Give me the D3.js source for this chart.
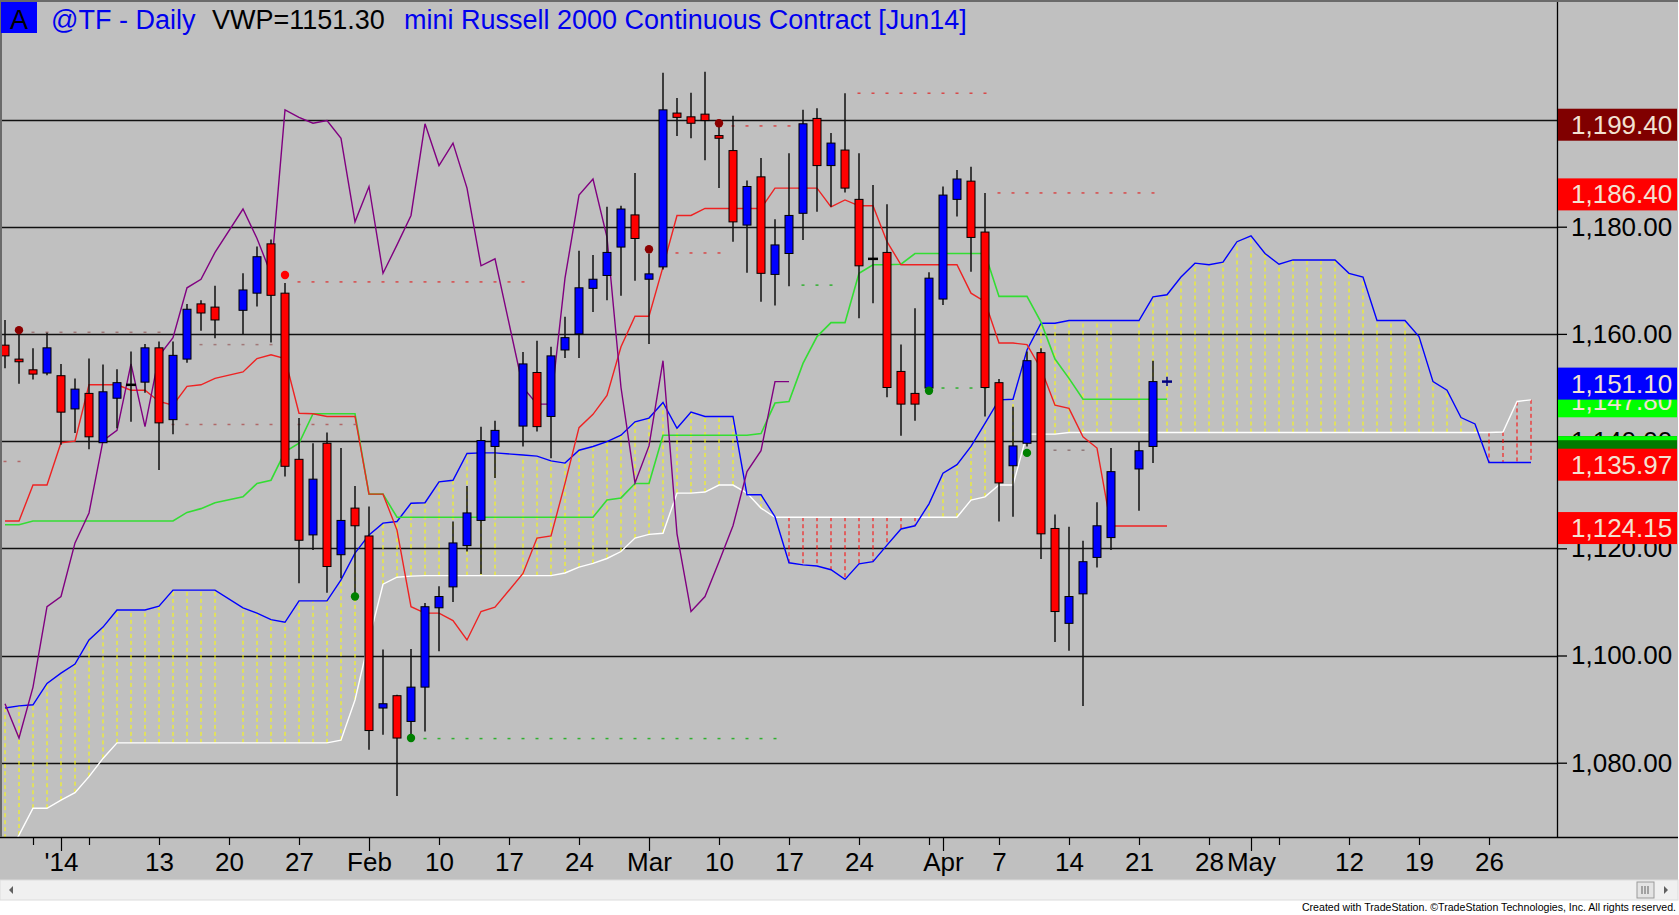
<!DOCTYPE html>
<html>
<head>
<meta charset="utf-8">
<script src="https://cdnjs.cloudflare.com/ajax/libs/d3/7.8.5/d3.min.js"></script>
<style>
  body { margin: 0; background: #ffffff; overflow: hidden; }
  svg { display: block; font-family: "Liberation Sans", Arial, sans-serif; }
</style>
</head>
<body>
<div id="chart-area"></div>
<script>
// one slot per weekday, Dec 26 2013 = slot 0; null = holiday slot without a bar
const opens = [1157.9, 1155.3, 1153.3, 1152.7, 1152.2, 1146.0, 1148.9, 1139.7, 1148.0, 1150.5,
  1151.0, 1157.4, 1144.0, 1155.3, 1165.6, 1165.0, null, 1164.4, 1167.6, 1176.8,
  1167.6, 1136.6, 1122.5, 1139.6, 1118.8, 1127.5, 1122.3, 1090.2, 1092.5, 1087.7,
  1094.1, 1108.9, 1112.8, 1120.5, 1125.2, 1139.0, null, 1142.8, 1152.8, 1144.6,
  1157.0, 1160.0, 1168.5, 1170.9, 1176.2, 1182.2, 1170.2, 1172.5, 1201.2, 1200.5,
  1201.0, 1197.0, 1194.2, 1180.3, 1189.3, 1171.1, 1175.0, 1182.5, 1200.2, 1191.4,
  1194.3, 1185.1, 1174.0, 1175.2, 1153.0, 1148.9, 1149.9, 1166.5, 1185.1, 1188.5,
  1179.0, 1150.9, 1135.4, 1139.6, 1156.5, 1123.7, 1106.0, 1111.5, 1118.3, 1122.0,
  null, 1134.8, 1139.0, 1151.1]
const highs = [1162.6, 1160.2, 1157.3, 1160.2, 1154.4, 1151.7, 1155.4, 1154.3, 1153.4, 1156.7,
  1158.1, 1158.6, 1158.6, 1165.6, 1166.3, 1169.0, null, 1171.3, 1176.3, 1177.6,
  1169.5, 1144.3, 1139.6, 1141.6, 1138.7, 1131.6, 1127.8, 1101.1, 1092.7, 1101.2,
  1109.8, 1112.9, 1125.0, 1131.6, 1142.7, 1143.8, null, 1156.6, 1158.7, 1157.6,
  1163.2, 1175.5, 1174.7, 1183.7, 1183.9, 1190.0, 1175.0, 1208.7, 1204.0, 1205.0,
  1208.9, 1198.7, 1200.7, 1188.6, 1192.8, 1181.4, 1193.7, 1201.8, 1202.1, 1197.5,
  1204.9, 1193.7, 1187.8, 1184.2, 1158.0, 1164.8, 1171.5, 1187.5, 1190.6, 1191.2,
  1186.3, 1151.6, 1146.4, 1156.7, 1157.3, 1126.3, 1124.0, 1121.4, 1128.6, 1138.7,
  null, 1139.9, 1155.0, 1152.0]
const lows = [1153.6, 1150.7, 1151.5, 1152.3, 1139.3, 1141.5, 1138.5, 1139.7, 1142.4, 1143.6,
  1149.0, 1134.6, 1141.3, 1154.6, 1160.6, 1159.2, null, 1160.0, 1165.1, 1158.4,
  1133.4, 1113.5, 1119.7, 1111.7, 1114.4, 1111.0, 1082.4, 1085.2, 1073.8, 1084.4,
  1085.8, 1100.8, 1110.0, 1119.4, 1115.2, 1133.1, null, 1139.0, 1141.8, 1136.8,
  1155.5, 1155.5, 1164.1, 1166.3, 1167.1, 1169.9, 1158.1, 1172.0, 1196.9, 1196.5,
  1192.4, 1187.2, 1177.2, 1171.4, 1166.0, 1165.3, 1168.9, 1177.5, 1182.8, 1183.7,
  1186.4, 1162.9, 1165.7, 1148.2, 1141.0, 1143.8, 1149.5, 1165.4, 1181.9, 1171.6,
  1144.6, 1125.0, 1125.9, 1139.0, 1118.0, 1102.5, 1100.9, 1090.6, 1116.4, 1119.7,
  null, 1127.0, 1135.9, 1150.3]
const closes = [1155.9, 1154.8, 1152.5, 1157.4, 1145.4, 1149.7, 1140.8, 1149.2, 1150.9, 1150.5,
  1157.4, 1143.4, 1156.0, 1164.6, 1163.9, 1162.6, null, 1168.2, 1174.4, 1167.2,
  1135.3, 1121.5, 1132.9, 1116.6, 1125.2, 1124.2, 1086.0, 1091.0, 1084.6, 1094.1,
  1109.1, 1111.0, 1121.0, 1126.6, 1140.1, 1142.0, null, 1154.4, 1142.7, 1155.9,
  1159.3, 1168.6, 1170.2, 1175.2, 1183.3, 1177.8, 1171.2, 1201.8, 1200.4, 1199.3,
  1199.8, 1196.5, 1180.9, 1187.5, 1171.3, 1176.6, 1182.1, 1199.2, 1191.4, 1195.6,
  1187.2, 1172.7, 1174.0, 1150.0, 1146.9, 1146.9, 1170.4, 1185.9, 1188.9, 1178.0,
  1150.0, 1132.2, 1139.1, 1155.0, 1122.7, 1108.2, 1111.0, 1117.5, 1124.2, 1134.3,
  null, 1138.2, 1151.1, 1151.1]

// ichimoku lines
const tenkan = [1125.1, 1125.1, 1131.8, 1131.8, 1139.7, 1140.0, 1150.5, 1150.5, 1150.5, 1149.5,
  1149.5, 1147.4, 1146.7, 1150.2, 1150.5, 1151.7, null, 1152.9, 1155.4, 1156.1,
  1155.4, 1145.2, 1145.1, 1144.6, 1144.6, 1144.6, 1130.1, 1130.1, 1123.4, 1109.1,
  1107.9, 1107.9, 1106.5, 1102.9, 1108.2, 1109.0, null, 1115.3, 1121.9, 1122.3,
  1132.1, 1142.5, 1145.0, 1148.5, 1157.6, 1163.3, 1163.3, 1172.5, 1182.1, 1182.1,
  1183.4, 1183.4, 1183.4, 1183.4, 1183.4, 1187.2, 1187.2, 1187.2, 1187.2, 1183.7,
  1185.0, 1183.9, 1183.9, 1177.2, 1172.9, 1172.9, 1172.9, 1172.9, 1172.9, 1167.6,
  1166.0, 1158.3, 1158.3, 1158.0, 1153.5, 1146.7, 1146.1, 1140.8, 1138.7, 1124.15,
  null, 1124.15, 1124.15, 1124.15]
const kijun = [1124.4, 1124.4, 1125.1, 1125.1, 1125.1, 1125.1, 1125.1, 1125.1, 1125.1, 1125.1,
  1125.1, 1125.1, 1125.1, 1126.7, 1127.4, 1128.5, null, 1129.6, 1132.1, 1132.7,
  1138.0, 1139.6, 1145.1, 1145.1, 1145.1, 1145.1, 1130.1, 1130.1, 1125.8, 1125.8,
  1125.8, 1125.8, 1125.8, 1125.8, 1125.8, 1125.8, null, 1125.8, 1125.8, 1125.8,
  1125.8, 1125.8, 1125.8, 1129.0, 1129.4, 1132.1, 1132.1, 1141.1, 1141.1, 1141.1,
  1141.1, 1141.1, 1141.1, 1141.1, 1141.4, 1147.1, 1147.4, 1154.5, 1159.5, 1162.1,
  1162.1, 1171.3, 1172.9, 1172.9, 1173.0, 1175.0, 1175.0, 1175.0, 1175.0, 1175.0,
  1175.0, 1167.0, 1167.0, 1167.0, 1162.2, 1155.3, 1151.7, 1147.8, 1147.8, 1147.8,
  null, 1147.8, 1147.8, 1147.8]
const senkouA = [1062.0, 1066.5, 1071.5, 1071.5, 1073.0, 1074.4, 1077.4, 1080.8, 1083.7, 1083.7,
  1083.7, 1083.7, 1083.7, 1083.7, 1083.7, 1083.7, null, 1083.7, 1083.7, 1083.7,
  1083.7, 1083.7, 1083.7, 1083.7, 1084.2, 1091.7, 1102.9, 1113.3, 1114.6, 1114.8,
  1114.9, 1114.9, 1114.9, 1114.9, 1114.9, 1114.9, null, 1114.9, 1114.9, 1114.9,
  1115.4, 1116.5, 1117.2, 1118.1, 1119.4, 1121.9, 1122.6, 1122.8, 1130.3, 1130.3,
  1130.5, 1131.8, 1131.8, 1130.3, 1127.5, 1125.8, 1125.8, 1125.8, 1125.8, 1125.8,
  1125.8, 1125.8, 1125.8, 1125.8, 1125.8, 1125.8, 1125.8, 1125.8, 1125.8, 1129.0,
  1129.6, 1131.8, 1131.8, 1141.3, 1141.3, 1141.3, 1141.6, 1141.6, 1141.6, 1141.6,
  null, 1141.6, 1141.6, 1141.6, 1141.6, 1141.6, 1141.6, 1141.6, 1141.6, 1141.6,
  1141.6, 1141.6, 1141.6, 1141.6, 1141.6, 1141.6, 1141.6, 1141.6, 1141.6, 1141.6,
  1141.6, 1141.6, 1141.6, 1141.6, 1141.6, 1141.6, 1141.6, 1141.7, 1147.4, 1147.7]
const senkouB = [1090.2, 1090.6, 1090.8, 1094.8, 1096.7, 1098.4, 1102.9, 1105.3, 1108.5, 1108.5,
  1108.5, 1109.2, 1112.2, 1112.2, 1112.2, 1112.2, null, 1108.9, 1107.9, 1106.7,
  1106.2, 1110.2, 1110.2, 1110.2, 1114.1, 1119.1, 1122.5, 1124.7, 1125.0, 1128.4,
  1128.5, 1132.4, 1132.7, 1137.7, 1137.8, 1137.8, null, 1137.4, 1137.2, 1136.3,
  1135.9, 1138.3, 1139.0, 1139.9, 1141.1, 1143.6, 1144.3, 1147.2, 1142.4, 1145.4,
  1144.6, 1144.6, 1144.6, 1130.0, 1130.0, 1125.9, 1117.3, 1116.9, 1116.7, 1116.0,
  1114.2, 1117.1, 1117.5, 1120.6, 1123.6, 1124.2, 1128.3, 1134.0, 1135.6, 1139.0,
  1143.3, 1147.7, 1147.8, 1157.0, 1162.0, 1162.0, 1162.5, 1162.5, 1162.5, 1162.5,
  null, 1162.5, 1166.9, 1167.3, 1170.6, 1173.2, 1172.9, 1173.4, 1177.2, 1178.3,
  1175.0, 1173.0, 1173.8, 1173.8, 1173.8, 1173.8, 1171.3, 1170.6, 1162.5, 1162.5,
  1162.5, 1159.5, 1151.1, 1149.5, 1144.4, 1143.2, 1136.0, 1136.0, 1136.0, 1136.0]
const chikou = [1091.0, 1084.6, 1094.1, 1109.1, 1111.0, 1121.0, 1126.6, 1140.1, 1142.0, 1154.4,
  1142.7, 1155.9, 1159.3, 1168.6, 1170.2, 1175.2, null, 1183.3, 1177.8, 1171.2,
  1201.8, 1200.4, 1199.3, 1199.8, 1196.5, 1180.9, 1187.5, 1171.3, 1176.6, 1182.1,
  1199.2, 1191.4, 1195.6, 1187.2, 1172.7, 1174.0, null, 1150.0, 1146.9, 1146.9,
  1170.4, 1185.9, 1188.9, 1178.0, 1150.0, 1132.2, 1139.1, 1155.0, 1122.7, 1108.2,
  1111.0, 1117.5, 1124.2, 1134.3, 1138.2, 1151.1, 1151.1]

// dotted level lines
const levelValues = [1204.9, 1186.3, 1198.8, 1175.1, 1169.7, 1160.3, 1158.0, 1143.1, 1136.2, 1138.3, 1084.5, 1169.1, 1149.9]
const levelFrom = [61, 71, 52, 48, 21, 2, 14, 12, 0, 75, 30, 57, 67]
const levelTo = [70, 82, 56, 51, 37, 11, 19, 25, 1, 77, 55, 59, 70]
const levelColors = ["#d84848", "#d84848", "#d84848", "#d84848", "#d84848", "#a07878", "#a07878",
  "#b06868", "#b06868", "#907878", "#30b030", "#30b030", "#30b030"]

// swing markers
const dotSlots = [1, 20, 46, 51, 25, 29, 66, 73]
const dotValues = [1160.7, 1171.0, 1175.8, 1199.3, 1111.0, 1084.6, 1149.4, 1137.8]
const dotColors = ["#8b0000", "#ff0000", "#8b0000", "#8b0000", "#008000", "#008000", "#008000", "#008000"]

// axes
const yTicks = [1080, 1100, 1120, 1140, 1160, 1180, 1200]
const yHiddenLabels = [1200]
const xTicks = [2, 4, 6, 11, 16, 21, 26, 31, 36, 41, 46, 51, 56, 61, 66, 67, 71, 76, 81, 86, 89, 91, 96, 101, 106]
const xLabelSlots = [4, 11, 16, 21, 26, 31, 36, 41, 46, 51, 56, 61, 67, 71, 76, 81, 86, 89, 96, 101, 106]
const xLabels = ["'14", "13", "20", "27", "Feb", "10", "17", "24", "Mar", "10", "17", "24", "Apr", "7", "14", "21", "28", "May", "12", "19", "26"]
const monthSlots = [4, 26, 46, 67, 89]

// price tags on the right scale (the dark green one is covered, no readable text)
const tagValues = [1199.40, 1186.40, 1138.30, 1147.80, 1151.10, 1135.97, 1124.15]
const tagColors = ["#800000", "#ff0000", "#007a00", "#00ff00", "#0000ff", "#ff0000", "#ff0000"]
const tagShowText = [true, true, false, true, true, true, true]

const W = 1679, H = 915
const PLOT_R = 1557, PLOT_B = 837

const svg = d3.select("#chart-area").append("svg")
  .attr("width", W)
  .attr("height", H)

svg.append("rect").attr("width", W).attr("height", H).attr("fill", "#ffffff")
svg.append("rect").attr("width", 1678).attr("height", 880).attr("fill", "#c0c0c0")

// scales
const x = d3.scaleLinear().domain([0, 109]).range([5, 5 + 14 * 109])
const y = d3.scaleLinear().domain([1080, 1180]).range([762.7, 226.7])

svg.append("clipPath").attr("id", "plot-clip")
  .append("rect").attr("x", 1).attr("y", 2).attr("width", PLOT_R - 1).attr("height", PLOT_B - 2)

// gridlines
svg.append("g").selectAll("line").data(yTicks).join("line")
  .attr("x1", 0).attr("x2", PLOT_R)
  .attr("y1", d => Math.round(y(d)) + 0.5).attr("y2", d => Math.round(y(d)) + 0.5)
  .attr("stroke", "#111").attr("stroke-width", 1.3)

const plot = svg.append("g").attr("clip-path", "url(#plot-clip)")

const series = arr => arr.map((v, i) => ({ i: i, v: v })).filter(d => d.v !== null)

// cloud hatch
const cloud = senkouA.map((a, i) => ({ i: i, a: a, b: senkouB[i] })).filter(d => d.a !== null && d.b !== null)
plot.append("g").selectAll("line").data(cloud).join("line")
  .attr("x1", d => x(d.i)).attr("x2", d => x(d.i))
  .attr("y1", d => y(d.a)).attr("y2", d => y(d.b))
  .attr("stroke", d => d.b >= d.a ? "#ffff00" : "#ff0000")
  .attr("stroke-width", 1)
  .attr("stroke-dasharray", "4,3")

const line = d3.line().x(d => x(d.i)).y(d => y(d.v))

const drawLine = (arr, color, width) => {
  plot.append("path")
    .attr("d", line(series(arr)))
    .attr("fill", "none")
    .attr("stroke", color)
    .attr("stroke-width", width)
}
drawLine(senkouA, "#ffffff", 1.4)
drawLine(senkouB, "#0000ff", 1.4)
drawLine(kijun, "#33dd33", 1.6)
drawLine(tenkan, "#ee2222", 1.4)
drawLine(chikou, "#800080", 1.4)

// dotted levels, one short dash per slot
levelValues.forEach((v, k) => {
  plot.append("g").selectAll("rect").data(d3.range(levelFrom[k], levelTo[k] + 1)).join("rect")
    .attr("x", s => x(s) - 1.5).attr("y", y(v) - 0.75)
    .attr("width", 3).attr("height", 1.5)
    .attr("fill", levelColors[k])
})

// candles
const bars = opens.map((o, i) => ({ i: i, o: o, h: highs[i], l: lows[i], c: closes[i] })).filter(d => d.o !== null)
const last = bars[bars.length - 1].i
const candles = plot.append("g")
candles.selectAll("line").data(bars).join("line")
  .attr("x1", d => x(d.i)).attr("x2", d => x(d.i))
  .attr("y1", d => y(d.h)).attr("y2", d => y(d.l))
  .attr("stroke", d => d.i === last ? "#000080" : "#111")
  .attr("stroke-width", 1.5)
candles.selectAll("rect").data(bars.filter(d => d.o !== d.c)).join("rect")
  .attr("x", d => x(d.i) - 4)
  .attr("y", d => y(Math.max(d.o, d.c)))
  .attr("width", 8)
  .attr("height", d => Math.max(2, Math.abs(y(d.o) - y(d.c))))
  .attr("fill", d => d.c > d.o ? "#0000ff" : "#ff0000")
  .attr("stroke", "#000").attr("stroke-width", 1)
candles.selectAll(".doji").data(bars.filter(d => d.o === d.c)).join("line")
  .attr("class", "doji")
  .attr("x1", d => x(d.i) - 5).attr("x2", d => x(d.i) + 5)
  .attr("y1", d => y(d.c)).attr("y2", d => y(d.c))
  .attr("stroke", d => d.i === last ? "#000080" : "#000")
  .attr("stroke-width", 2.5)

// swing dots
plot.append("g").selectAll("circle").data(dotSlots).join("circle")
  .attr("cx", s => x(s))
  .attr("cy", (s, k) => y(dotValues[k]))
  .attr("r", 4.2)
  .attr("fill", (s, k) => dotColors[k])

// frame
svg.append("line").attr("x1", 0).attr("x2", W - 1).attr("y1", PLOT_B + 0.5).attr("y2", PLOT_B + 0.5)
  .attr("stroke", "#000").attr("stroke-width", 1.5)
svg.append("line").attr("x1", PLOT_R + 0.5).attr("x2", PLOT_R + 0.5).attr("y1", 0).attr("y2", PLOT_B)
  .attr("stroke", "#000").attr("stroke-width", 1.3)
svg.append("line").attr("x1", 0).attr("x2", 1678).attr("y1", 1).attr("y2", 1)
  .attr("stroke", "#6a6a6a").attr("stroke-width", 2)
svg.append("line").attr("x1", 1).attr("x2", 1).attr("y1", 0).attr("y2", PLOT_B)
  .attr("stroke", "#6a6a6a").attr("stroke-width", 2)

// right price scale
const yAxis = svg.append("g")
  .attr("transform", `translate(${PLOT_R}, 0)`)
  .call(d3.axisRight(y).tickValues(yTicks).tickSize(10).tickPadding(4)
    .tickFormat(d => yHiddenLabels.includes(d) ? "" : d3.format(",.2f")(d)))
yAxis.select(".domain").remove()
yAxis.selectAll("line").attr("stroke", "#000").attr("stroke-width", 1.3)
yAxis.selectAll("text")
  .attr("font-size", "26px")
  .attr("font-family", "Liberation Sans, Arial, sans-serif")
  .attr("fill", "#000")

// date axis
const labelOf = s => {
  const k = xLabelSlots.indexOf(s)
  return k < 0 ? "" : xLabels[k]
}
const xAxis = svg.append("g")
  .attr("transform", `translate(0, ${PLOT_B})`)
  .call(d3.axisBottom(x).tickValues(xTicks).tickSize(8).tickPadding(8).tickFormat(labelOf))
xAxis.select(".domain").remove()
xAxis.selectAll("line").attr("stroke", "#000").attr("stroke-width", 1.2)
xAxis.selectAll(".tick").filter(s => monthSlots.includes(s)).select("line").attr("y2", 14)
xAxis.selectAll("text")
  .attr("font-size", "26px")
  .attr("font-family", "Liberation Sans, Arial, sans-serif")
  .attr("fill", "#000")

// price tags
const fmt = d3.format(",.2f")
const tags = svg.append("g")
tagValues.forEach((v, k) => {
  const ty = y(v)
  tags.append("rect")
    .attr("x", PLOT_R + 1).attr("y", ty - 14)
    .attr("width", 119).attr("height", 32)
    .attr("fill", tagColors[k])
  if (!tagShowText[k]) {
    tags.append("rect").attr("x", PLOT_R + 1).attr("y", ty - 14).attr("width", 119).attr("height", 4).attr("fill", "#00ff00")
    return
  }
  tags.append("text")
    .attr("x", PLOT_R + 14).attr("y", ty + 11)
    .attr("font-size", "26px")
    .attr("fill", "#f3e2d2")
    .text(fmt(v))
})

// title line
const title = svg.append("g").attr("font-size", "27px")
title.append("rect").attr("x", 1).attr("y", 2).attr("width", 36).attr("height", 31).attr("fill", "#0000ff")
title.append("text").attr("x", 10).attr("y", 29).attr("fill", "#000").text("A")
title.append("text").attr("x", 51).attr("y", 29).attr("fill", "#0000ee").text("@TF - Daily")
title.append("text").attr("x", 212).attr("y", 29).attr("fill", "#000").text("VWP=1151.30")
title.append("text").attr("x", 404).attr("y", 29).attr("fill", "#0000ee").text("mini Russell 2000 Continuous Contract [Jun14]")

// scroll bar and footer
svg.append("rect").attr("x", 0).attr("y", 880).attr("width", 1678).attr("height", 20)
  .attr("fill", "#f0f0f0").attr("stroke", "#dcdcdc")
svg.append("path").attr("d", "M13,886 L9,890 L13,894 Z").attr("fill", "#606060")
svg.append("path").attr("d", "M1664,886 L1668,890 L1664,894 Z").attr("fill", "#606060")
svg.append("rect").attr("x", 1637).attr("y", 882).attr("width", 17).attr("height", 16)
  .attr("fill", "#e4e4e4").attr("stroke", "#9a9a9a")
svg.append("g").selectAll("line").data([1642, 1645, 1648]).join("line")
  .attr("x1", d => d).attr("x2", d => d).attr("y1", 886).attr("y2", 894)
  .attr("stroke", "#606060")
svg.append("text")
  .attr("x", 1676).attr("y", 911)
  .attr("text-anchor", "end")
  .attr("font-size", "10.6px")
  .attr("fill", "#000")
  .text("Created with TradeStation. \u00A9TradeStation Technologies, Inc. All rights reserved.")
</script>
</body>
</html>
